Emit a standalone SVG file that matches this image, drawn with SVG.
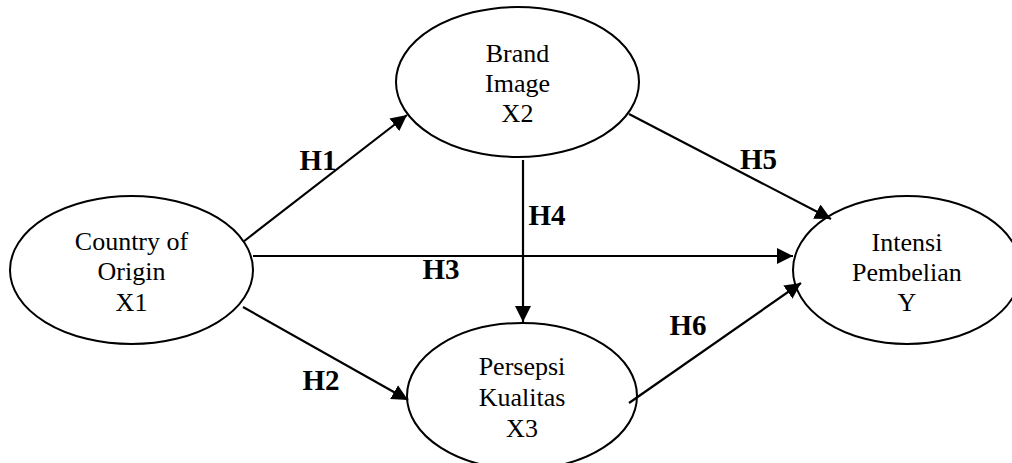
<svg xmlns="http://www.w3.org/2000/svg" width="1012" height="463" viewBox="0 0 1012 463">
<style>
.node ellipse{fill:#fff;stroke:#000;stroke-width:2}
.node text{font-family:"Liberation Serif","Times New Roman",serif;font-size:26px;text-anchor:middle;fill:#000}
.conn line{stroke:#000;stroke-width:2.2;fill:none}
.lbl{font-family:"Liberation Serif","Times New Roman",serif;font-size:29px;font-weight:bold;text-anchor:middle;fill:#000}
</style>
<defs>
<marker id="ah" markerUnits="userSpaceOnUse" markerWidth="18" markerHeight="16" refX="16" refY="8" orient="auto">
<path d="M0,0 L16,8 L0,16 Z" fill="#000"/>
</marker>
</defs>
<rect width="1012" height="463" fill="#fff"/>
<g id="n-x1" class="node">
<ellipse cx="131.5" cy="270" rx="121.5" ry="74"/>
<text x="131.5" y="250">Country of</text>
<text x="131.5" y="280">Origin</text>
<text x="131.5" y="311">X1</text>
</g>
<g id="n-x2" class="node">
<ellipse cx="517.5" cy="82" rx="121.5" ry="75"/>
<text x="517.5" y="62">Brand</text>
<text x="517.5" y="92">Image</text>
<text x="517.5" y="122">X2</text>
</g>
<g id="n-x3" class="node">
<ellipse cx="522" cy="396" rx="115" ry="73"/>
<text x="522" y="375">Persepsi</text>
<text x="522" y="406">Kualitas</text>
<text x="522" y="437">X3</text>
</g>
<g id="n-y" class="node">
<ellipse cx="907" cy="270" rx="114" ry="74"/>
<text x="907" y="251">Intensi</text>
<text x="907" y="281">Pembelian</text>
<text x="907" y="311">Y</text>
</g>
<g id="connectors" class="conn">
<line x1="243" y1="242" x2="407" y2="115" marker-end="url(#ah)"/>
<line x1="243" y1="307" x2="408" y2="400" marker-end="url(#ah)"/>
<line x1="253" y1="256" x2="793" y2="256" marker-end="url(#ah)"/>
<line x1="523" y1="160" x2="523" y2="322" marker-end="url(#ah)"/>
<line x1="629" y1="114" x2="831" y2="219" marker-end="url(#ah)"/>
<line x1="629" y1="403" x2="801" y2="283" marker-end="url(#ah)"/>
</g>
<g id="labels">
<text class="lbl" x="318" y="170">H1</text>
<text class="lbl" x="321" y="390">H2</text>
<text class="lbl" x="441" y="279">H3</text>
<text class="lbl" x="547" y="225">H4</text>
<text class="lbl" x="758.5" y="169">H5</text>
<text class="lbl" x="688" y="335">H6</text>
</g>
</svg>
